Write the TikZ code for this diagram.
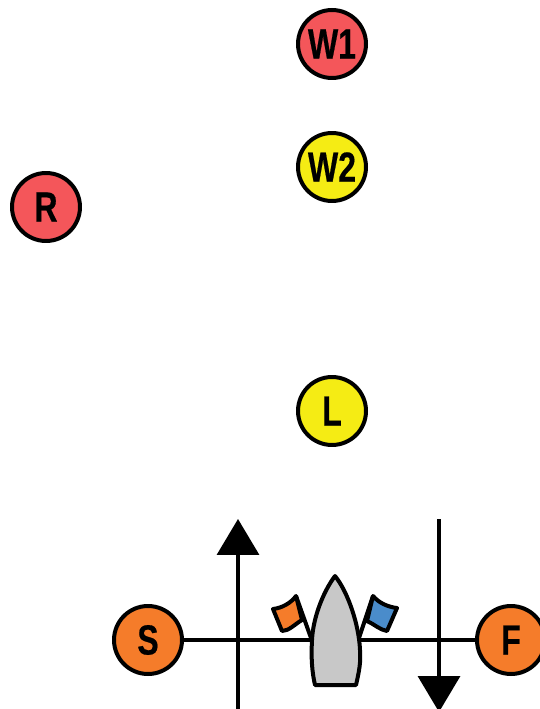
\documentclass[tikz,border=0pt]{standalone}
\usepackage{fontspec}
\setsansfont{Liberation Sans}[FakeStretch=0.76,FakeBold=0.4]
\usetikzlibrary{arrows.meta}
\definecolor{buoyred}{HTML}{F4565A}
\definecolor{buoyyellow}{HTML}{F5EC14}
\definecolor{buoyorange}{HTML}{F57C2A}
\definecolor{flagblue}{HTML}{4A8CCB}
\definecolor{hullgray}{HTML}{C8C8C8}
\begin{document}
\begin{tikzpicture}[x=0.02cm,y=0.02cm]
\tikzstyle{every node}+=[inner sep=0pt]
\tikzstyle{buoy}=[circle,draw=black,line width=0.08cm,minimum size=1.36cm,font=\sffamily\bfseries\fontsize{24}{24}\selectfont]
\tikzstyle{outline}=[draw=black,line width=0.08cm,line join=round]
\tikzstyle{current}=[black,line width=0.07cm,-{Triangle[length=0.72cm,width=0.84cm]}]
\useasboundingbox (0,0) rectangle (539,-709);
\node [buoy,fill=buoyred] (w1) at (332,-44) {W1};
\node [buoy,fill=buoyyellow] (w2) at (332,-167) {W2};
\node [buoy,fill=buoyred] (r) at (46,-207) {R};
\node [buoy,fill=buoyyellow] (l) at (332,-411) {L};
\node [buoy,fill=buoyorange] (s) at (148,-640) {S};
\node [buoy,fill=buoyorange] (f) at (511,-640) {F};
\coordinate (upfoot) at (238,-715);
\coordinate (uptip) at (238,-519);
\coordinate (downfoot) at (439,-519);
\coordinate (downtip) at (439,-712);
\draw [outline] (s) -- (f);
\draw [current] (upfoot) -- (uptip);
\draw [current] (downfoot) -- (downtip);
% flags
\draw [outline] (311,-638) -- (296,-596);
\draw [outline] (359,-638) -- (373,-596);
\draw [outline,fill=buoyorange] (296,-596) .. controls (291,-603) and (282,-608) .. (273,-609) -- (282,-631) .. controls (289,-631) and (295,-624) .. (302,-620) -- cycle;
\draw [outline,fill=flagblue] (373,-596) .. controls (379,-603) and (388,-607) .. (397,-608) -- (387,-631) .. controls (380,-630) and (374,-624) .. (367,-621) -- cycle;
% boat
\draw [outline,fill=hullgray] (335,-576) .. controls (323,-592) and (313,-618) .. (312,-640) .. controls (311,-658) and (312,-672) .. (315,-685) -- (356,-685) .. controls (359,-672) and (361,-662) .. (360,-650) .. controls (359,-625) and (348,-592) .. (335,-576) -- cycle;
\end{tikzpicture}
\end{document}
